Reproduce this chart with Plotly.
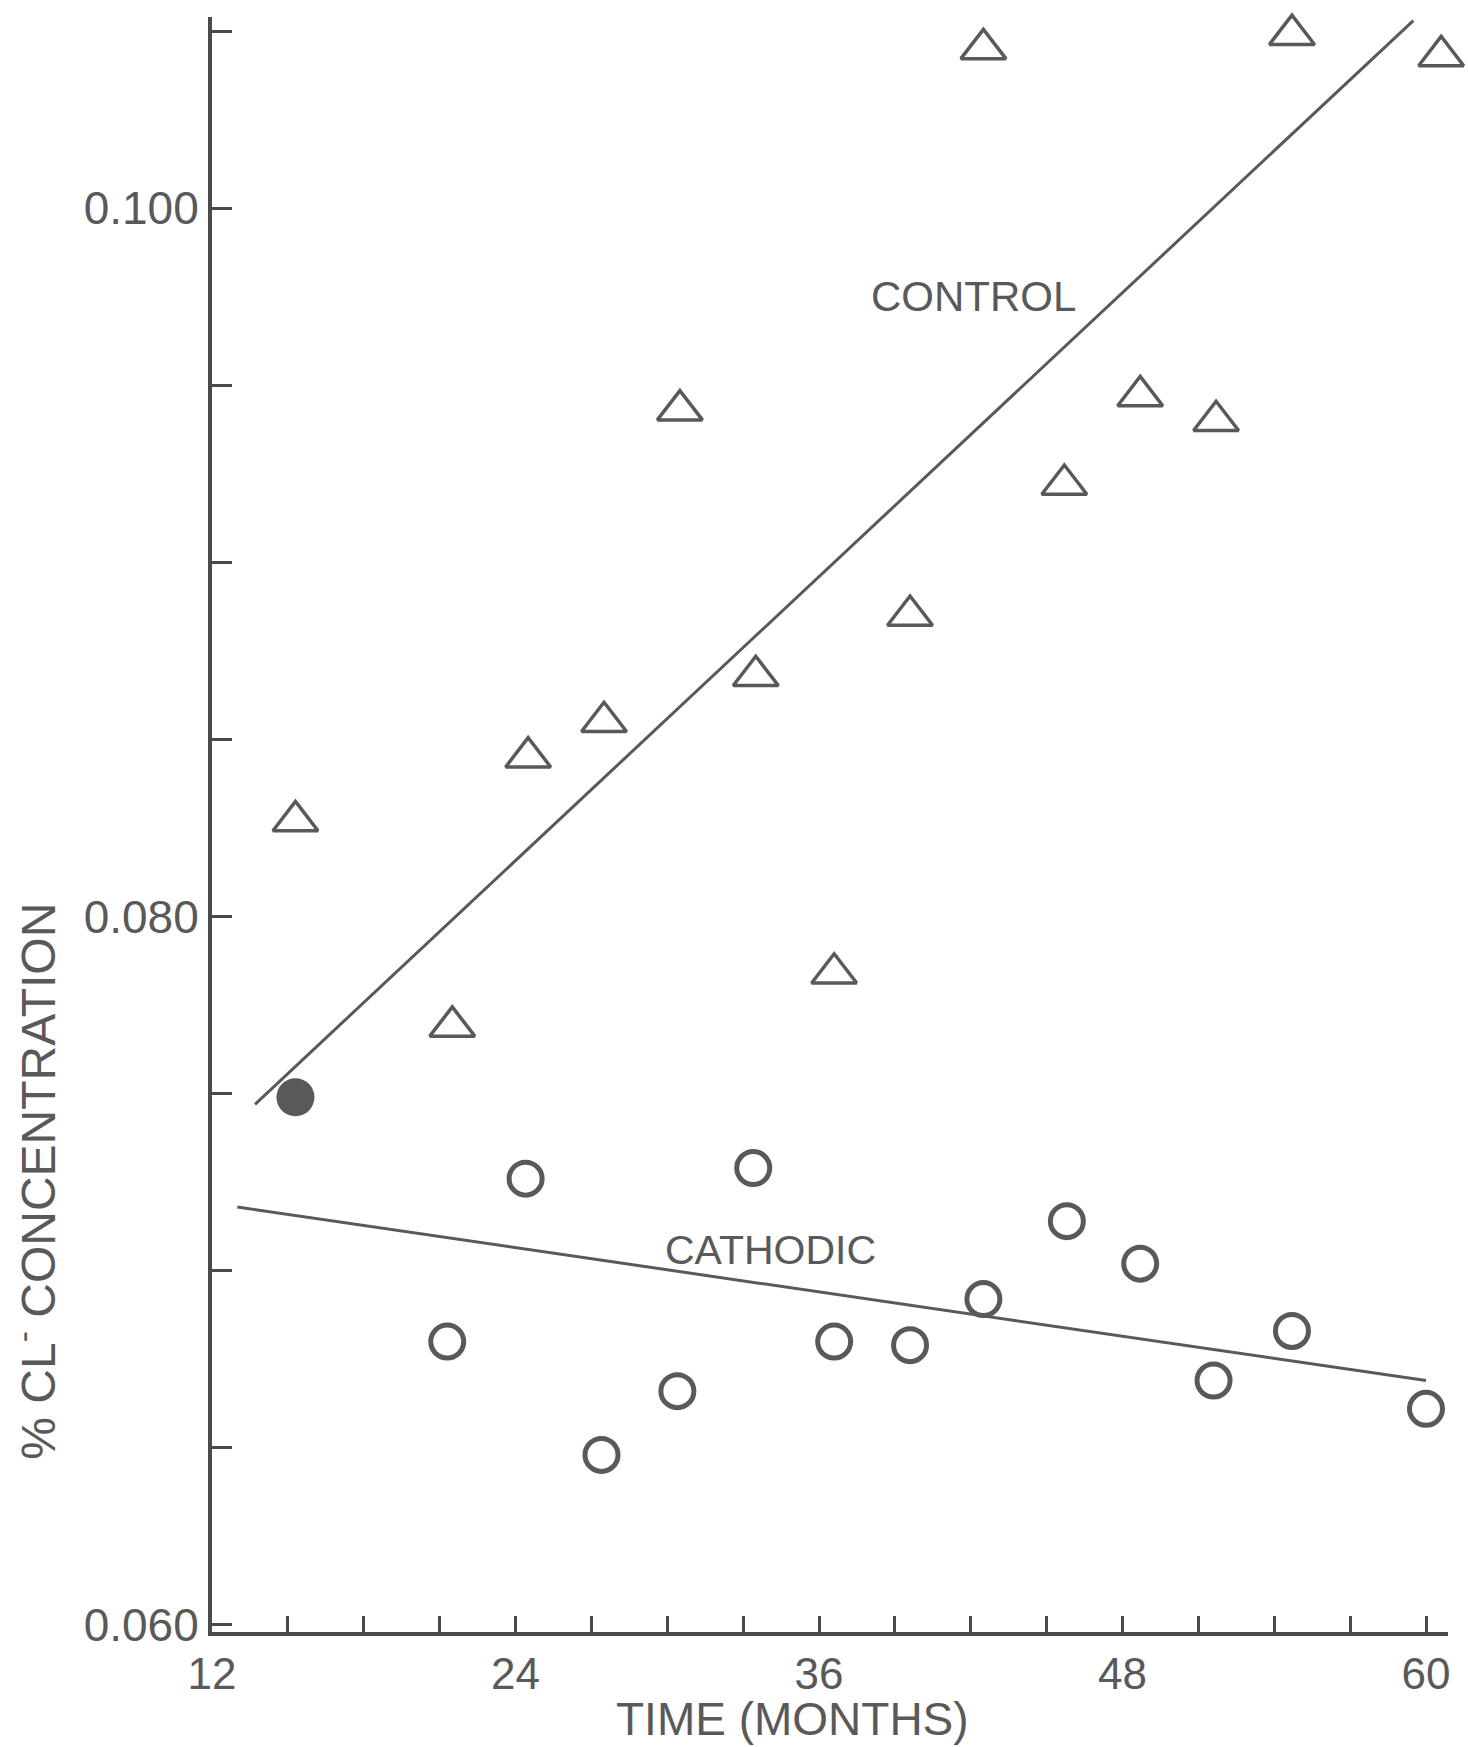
import plotly.graph_objects as go

# ---- data ----
control_months = [15.3, 21.5, 24.5, 27.5, 30.5, 33.5, 36.6, 39.6, 42.5, 45.7, 48.7, 51.7, 54.7, 60.6]
control_cl = [0.0827, 0.0769, 0.0845, 0.0855, 0.0943, 0.0868, 0.0784, 0.0885, 0.1045, 0.0922, 0.0947, 0.0940, 0.1049, 0.1043]

cathodic_months = [21.3, 24.4, 27.4, 30.4, 33.4, 36.6, 39.6, 42.5, 45.8, 48.7, 51.6, 54.7, 60.0]
cathodic_cl = [0.0680, 0.0726, 0.0648, 0.0666, 0.0729, 0.0680, 0.0679, 0.0692, 0.0714, 0.0702, 0.0669, 0.0683, 0.0661]

initial_month = [15.3]
initial_cl = [0.0749]

control_fit_x = [13.7, 59.5]
control_fit_y = [0.0747, 0.1053]
cathodic_fit_x = [13.0, 60.0]
cathodic_fit_y = [0.0718, 0.0669]

x_tickvals = [12, 15, 18, 21, 24, 27, 30, 33, 36, 39, 42, 45, 48, 51, 54, 57, 60]
x_ticktext = ["12", "", "", "", "24", "", "", "", "36", "", "", "", "48", "", "", "", "60"]
y_tickvals = [0.060, 0.065, 0.070, 0.075, 0.080, 0.085, 0.090, 0.095, 0.100, 0.105]
y_ticktext = ["0.060", "", "", "", "0.080", "", "", "", "0.100", ""]

ink = "#595959"
axis_ink = "#4a4a4a"
font = "Liberation Sans, Arial, sans-serif"

fig = go.Figure()

fig.add_trace(go.Scatter(x=control_fit_x, y=control_fit_y, mode="lines",
                         line=dict(color=ink, width=3), showlegend=False, hoverinfo="skip"))
fig.add_trace(go.Scatter(x=cathodic_fit_x, y=cathodic_fit_y, mode="lines",
                         line=dict(color=ink, width=3), showlegend=False, hoverinfo="skip"))

fig.add_trace(go.Scatter(x=control_months, y=control_cl, mode="markers", name="Control",
                         marker=dict(symbol="triangle-up-open", size=39, color=ink,
                                     line=dict(color=ink, width=3.5)),
                         cliponaxis=False, showlegend=False))
fig.add_trace(go.Scatter(x=cathodic_months, y=cathodic_cl, mode="markers", name="Cathodic",
                         marker=dict(symbol="circle-open", size=33, color=ink,
                                     line=dict(color=ink, width=5)),
                         cliponaxis=False, showlegend=False))
fig.add_trace(go.Scatter(x=initial_month, y=initial_cl, mode="markers", name="Initial",
                         marker=dict(symbol="circle", size=38, color=ink,
                                     line=dict(width=0)),
                         cliponaxis=False, showlegend=False))

fig.add_annotation(x=42.1, y=0.0975, text="CONTROL", showarrow=False,
                   font=dict(family=font, size=42, color=ink))
fig.add_annotation(x=34.1, y=0.0706, text="CATHODIC", showarrow=False,
                   font=dict(family=font, size=41, color=ink))

fig.add_annotation(xref="paper", yref="paper", x=-0.143, y=0.279,
                   xanchor="center", yanchor="middle",
                   text="% CL<sup>-</sup> CONCENTRATION", textangle=-90, showarrow=False,
                   font=dict(family=font, size=48, color=ink))
fig.add_annotation(xref="paper", yref="paper", x=0.47, y=-0.054,
                   xanchor="center", yanchor="middle",
                   text="TIME (MONTHS)", showarrow=False,
                   font=dict(family=font, size=46, color=ink))

fig.update_xaxes(range=[12, 60.87], tickvals=x_tickvals, ticktext=x_ticktext,
                 ticks="inside", ticklen=16, tickwidth=3, tickcolor=axis_ink,
                 showline=True, linewidth=4, linecolor=axis_ink, showgrid=False,
                 zeroline=False, tickfont=dict(family=font, size=44, color=ink))
fig.update_yaxes(range=[0.0598, 0.1054], tickvals=y_tickvals, ticktext=y_ticktext,
                 ticks="inside", ticklen=20, tickwidth=3, tickcolor=axis_ink,
                 showline=True, linewidth=4, linecolor=axis_ink, showgrid=False,
                 zeroline=False, tickfont=dict(family=font, size=46, color=ink))

fig.update_layout(width=1468, height=1747,
                  margin=dict(l=212, r=20, t=17, b=115),
                  paper_bgcolor="white", plot_bgcolor="white")

fig.write_html("out.html")
